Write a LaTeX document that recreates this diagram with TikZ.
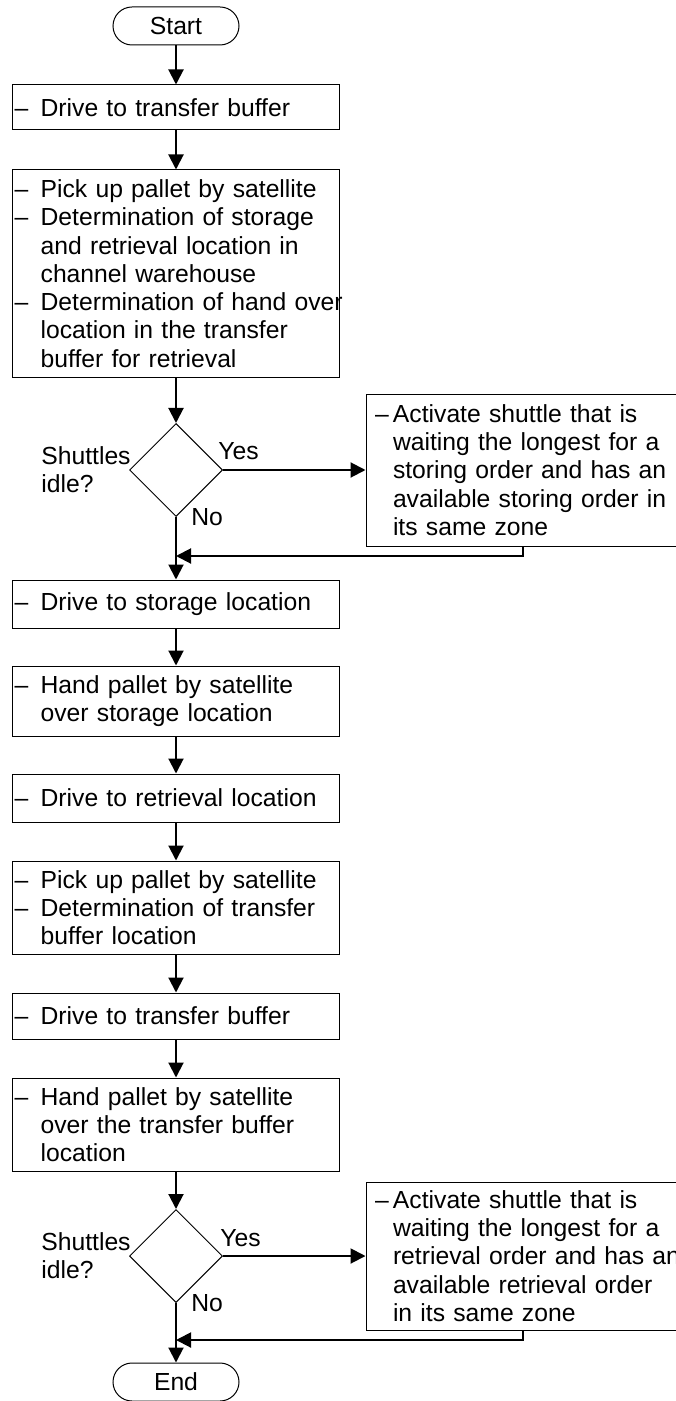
\documentclass[tikz,border=0pt]{standalone}
\usepackage{fontspec}
\setmainfont{Liberation Sans}
\usetikzlibrary{shapes.geometric,positioning,arrows.meta}
\newlength{\dashwd}
\newcommand{\dashln}[1]{\mbox{\makebox[\dashwd][l]{--}#1}}
\newcommand{\contln}[1]{\mbox{\hspace*{\dashwd}#1}}

\begin{document}
\begin{tikzpicture}[x=0.5pt, y=-0.5pt, >={Triangle[length=7.5pt,width=7.5pt]},
    every node/.style={font=\fontsize{12.35}{14.15}\selectfont},
    terminal/.style={draw, line width=0.5pt, rectangle, rounded corners=9.5pt, minimum width=63pt, minimum height=19pt, inner sep=0pt},
    stepbox/.style={draw, line width=0.5pt, rectangle, text width=161.35pt, inner xsep=1.15pt, inner ysep=3pt, align=left,
        execute at begin node={\setlength{\dashwd}{13pt}\noindent}},
    notebox/.style={draw, line width=0.5pt, rectangle, text width=148pt, inner xsep=4.5pt, inner ysep=3pt, align=left,
        execute at begin node={\setlength{\dashwd}{9pt}\noindent}},
    decision/.style={draw, line width=0.5pt, diamond, minimum width=46.5pt, minimum height=46.5pt, inner sep=0pt},
    tag/.style={inner sep=0pt},
    flow/.style={->, line width=1pt}]
        \useasboundingbox (0,0) rectangle (675,1401);

        % Storing part
        \node[terminal] (start) at (176,26) {Start};
        \node[stepbox, minimum height=22.5pt] (b1) at (176,107.5) {\dashln{Drive to transfer buffer}};
        \node[stepbox, minimum height=103.5pt] (b2) at (176,273.5) {\dashln{Pick up pallet by satellite}\\
            \dashln{Determination of storage}\\ \contln{and retrieval location in}\\ \contln{channel warehouse}\\
            \dashln{Determination of hand over}\\ \contln{location in the transfer}\\ \contln{buffer for retrieval}};

        % first decision
        \node[decision] (d1) at (176,470) {};
        \node[tag, left=-1pt of d1.west, align=left] (q1) {Shuttles\\idle?};
        \node[tag, above right=5pt and -2.5pt of d1.east] (yes1) {Yes};
        \node[tag, right=7.5pt of d1.south] (no1) {No};
        \node[notebox, minimum height=76pt] (r1) at (523,470) {\dashln{Activate shuttle that is}\\
            \contln{waiting the longest for a}\\ \contln{storing order and has an}\\
            \contln{available storing order in}\\ \contln{its same zone}};
        \coordinate (m1) at (176,556);

        % Retrieval part
        \node[stepbox, minimum height=24pt] (b3) at (176,604) {\dashln{Drive to storage location}};
        \node[stepbox, minimum height=35pt] (b4) at (176,701) {\dashln{Hand pallet by satellite}\\ \contln{over storage location}};
        \node[stepbox, minimum height=24pt] (b5) at (176,798) {\dashln{Drive to retrieval location}};
        \node[stepbox, minimum height=46.5pt] (b6) at (176,907.5) {\dashln{Pick up pallet by satellite}\\
            \dashln{Determination of transfer}\\ \contln{buffer location}};
        \node[stepbox, minimum height=23pt] (b7) at (176,1016) {\dashln{Drive to transfer buffer}};
        \node[stepbox, minimum height=46.5pt] (b8) at (176,1124.5) {\dashln{Hand pallet by satellite}\\
            \contln{over the transfer buffer}\\ \contln{location}};

        % second decision
        \node[decision] (d2) at (176,1256) {};
        \node[tag, left=-1pt of d2.west, align=left] (q2) {Shuttles\\idle?};
        \node[tag, above right=4.5pt and -1.5pt of d2.east] (yes2) {Yes};
        \node[tag, right=7.5pt of d2.south] (no2) {No};
        \node[notebox, minimum height=74pt] (r2) at (523,1256) {\dashln{Activate shuttle that is}\\
            \contln{waiting the longest for a}\\ \contln{retrieval order and has an}\\
            \contln{available retrieval order}\\ \contln{in its same zone}};
        \coordinate (m2) at (176,1340);
        \node[terminal] (end) at (176,1382) {End};

        % Draw the flow
        \draw[flow] (start) -- (b1);
        \draw[flow] (b1) -- (b2);
        \draw[flow] (b2) -- (d1);
        \draw[flow] (d1.east) -- (d1.east -| r1.west);
        \draw[flow] (r1.south) |- (m1);
        \draw[flow] (d1) -- (b3);
        \draw[flow] (b3) -- (b4);
        \draw[flow] (b4) -- (b5);
        \draw[flow] (b5) -- (b6);
        \draw[flow] (b6) -- (b7);
        \draw[flow] (b7) -- (b8);
        \draw[flow] (b8) -- (d2);
        \draw[flow] (d2.east) -- (d2.east -| r2.west);
        \draw[flow] (r2.south) |- (m2);
        \draw[flow] (d2) -- (end);
    \end{tikzpicture}
\end{document}
